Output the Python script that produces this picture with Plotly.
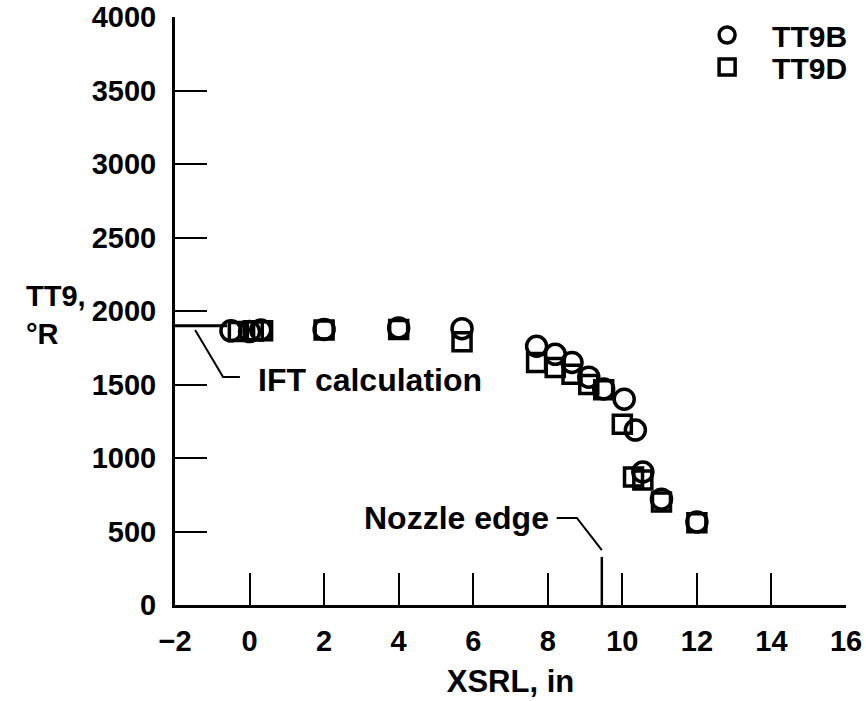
import plotly.graph_objects as go

# TT9B (circles)
tt9b_x = [-0.5, 0.0, 0.3, 2.0, 4.0, 5.7, 7.7, 8.2, 8.65, 9.1, 9.5, 10.05, 10.35, 10.55, 11.05, 12.0]
tt9b_y = [1865, 1860, 1870, 1875, 1885, 1880, 1760, 1705, 1650, 1550, 1470, 1400, 1190, 905, 720, 565]
# TT9D (squares)
tt9d_x = [-0.3, 0.1, 0.35, 2.0, 4.0, 5.7, 7.7, 8.2, 8.65, 9.1, 9.5, 10.0, 10.3, 10.55, 11.05, 12.0]
tt9d_y = [1860, 1865, 1865, 1870, 1875, 1790, 1650, 1615, 1570, 1500, 1465, 1230, 870, 850, 700, 560]

x_ticks = [-2, 0, 2, 4, 6, 8, 10, 12, 14, 16]
y_ticks = [0, 500, 1000, 1500, 2000, 2500, 3000, 3500, 4000]

ift_value = 1900
nozzle_x = 9.45

FONT = "Liberation Sans"
NB = "\u00a0"

fig = go.Figure()
fig.add_trace(go.Scatter(
    x=tt9b_x, y=tt9b_y, mode="markers", name=NB * 3 + "TT9B", legend="legend",
    marker=dict(symbol="circle-open", size=20, color="black", line=dict(width=3.5, color="black")),
))
fig.add_trace(go.Scatter(
    x=tt9d_x, y=tt9d_y, mode="markers", name=NB * 3 + "TT9D", legend="legend2",
    marker=dict(symbol="square-open", size=18, color="black", line=dict(width=3.5, color="black")),
))

line_style = dict(color="black", width=2)
# IFT calculation line and leader
fig.add_shape(type="line", x0=-2, x1=-0.6, y0=ift_value, y1=ift_value, line=dict(color="black", width=3))
fig.add_shape(type="path", path="M -1.46 1871 L -0.71 1551 L -0.26 1551", line=line_style)
fig.add_annotation(x=0.18, y=1530, text="IFT calculation", showarrow=False, xanchor="left",
                   font=dict(family=FONT, size=32, color="black", weight="bold"))
# Nozzle edge tick and leader
fig.add_shape(type="line", x0=nozzle_x, x1=nozzle_x, y0=0, y1=327, line=dict(color="black", width=2.5))
fig.add_shape(type="path", path="M 9.45 374 L 8.78 592 L 8.24 592", line=line_style)
fig.add_annotation(x=8.08, y=592, text="Nozzle edge", showarrow=False, xanchor="right",
                   font=dict(family=FONT, size=32, color="black", weight="bold"))
# Y axis title
fig.add_annotation(xref="paper", yref="paper", x=-0.13, y=0.493, text="TT9,<br>°R",
                   showarrow=False, xanchor="right", yanchor="middle", align="left",
                   font=dict(family=FONT, size=29, color="black", weight="bold"))

legend_common = dict(xanchor="left", yanchor="top", bgcolor="rgba(0,0,0,0)",
                     font=dict(family=FONT, size=30, color="black", weight="bold"),
                     itemsizing="trace")
fig.update_layout(
    width=866, height=701,
    margin=dict(l=175, r=20, t=17, b=96, autoexpand=False),
    paper_bgcolor="white", plot_bgcolor="white",
    font=dict(family=FONT, size=29, color="black", weight="bold"),
    showlegend=True,
    legend=dict(x=0.793, y=1.0136, **legend_common),
    legend2=dict(x=0.793, y=1.0136 - 32 / 588, **legend_common),
)
fig.update_xaxes(
    range=[-2, 16], tickvals=x_ticks, ticktext=["\u22122" if v < 0 else str(v) for v in x_ticks],
    showline=True, linecolor="black", linewidth=3, mirror=False,
    ticks="inside", ticklen=32, tickwidth=2, tickcolor="black",
    showgrid=False, zeroline=False, ticklabelstandoff=8, automargin=False,
    title=dict(text="XSRL, in", font=dict(family=FONT, size=31, color="black", weight="bold"), standoff=15),
)
fig.update_yaxes(
    range=[0, 4000], tickvals=y_ticks,
    showline=True, linecolor="black", linewidth=3, mirror=False,
    ticks="inside", ticklen=32, tickwidth=2, tickcolor="black",
    showgrid=False, zeroline=False, ticklabelstandoff=10, automargin=False,
)

fig.write_html("out.html", config={"displayModeBar": False},
               post_script="document.body.style.margin='0';")
